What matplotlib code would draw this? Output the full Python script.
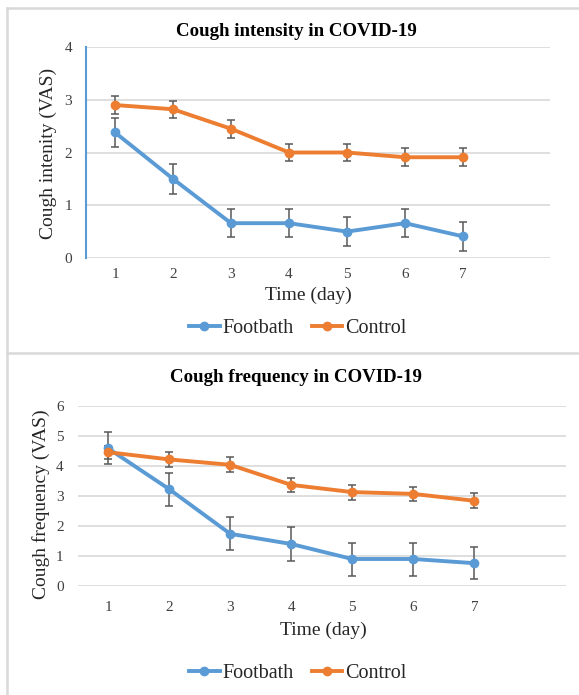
import matplotlib
matplotlib.use("Agg")
import matplotlib.pyplot as plt
from matplotlib.lines import Line2D

days = [1, 2, 3, 4, 5, 6, 7]

# Cough intensity (VAS)
int_footbath = [2.38, 1.50, 0.66, 0.66, 0.50, 0.66, 0.41]
int_footbath_err = [0.27, 0.28, 0.27, 0.27, 0.27, 0.27, 0.28]
int_control = [2.90, 2.82, 2.45, 2.00, 2.00, 1.91, 1.91]
int_control_err = [0.17, 0.16, 0.17, 0.17, 0.17, 0.17, 0.17]

# Cough frequency (VAS)
freq_footbath = [4.59, 3.23, 1.74, 1.40, 0.90, 0.90, 0.76]
freq_footbath_err = [0.53, 0.55, 0.55, 0.56, 0.55, 0.55, 0.54]
freq_control = [4.46, 4.22, 4.04, 3.37, 3.13, 3.07, 2.84]
freq_control_err = [0.22, 0.25, 0.25, 0.24, 0.25, 0.24, 0.25]

BLUE = "#5B9BD5"
ORANGE = "#ED7D31"
GRID = "#D9D9D9"
ERR = "#595959"
TXT = "#262626"

plt.rcParams['font.family'] = ['Liberation Serif', 'DejaVu Serif']

W, H = 579, 695
fig = plt.figure(figsize=(W / 100, H / 100), dpi=100)

# panel frames
fig.add_artist(Line2D([7 / W, 1], [1 - 8 / H, 1 - 8 / H], color=GRID, lw=1.8, transform=fig.transFigure))
fig.add_artist(Line2D([7 / W, 7 / W], [0, 1 - 8 / H], color=GRID, lw=1.8, transform=fig.transFigure))
fig.add_artist(Line2D([7 / W, 1], [1 - 353 / H, 1 - 353 / H], color=GRID, lw=1.8, transform=fig.transFigure))


def panel(rect, fb, fb_err, ct, ct_err, ymax, title, ylabel, left_spine, title_y, xlabel_y,
          ylabel_x, ylabel_y, legend_y, legend_x, xlabel_x, xpad):
    ax = fig.add_axes(rect)
    for y in range(0, ymax + 1):
        ax.axhline(y, color=GRID, lw=1.2, zorder=0)
    for vals, errs, col, lab in [(fb, fb_err, BLUE, "Footbath"), (ct, ct_err, ORANGE, "Control")]:
        ax.errorbar(days, vals, yerr=errs, fmt='none', ecolor=ERR, elinewidth=1.1,
                    capsize=3.2, capthick=1.1, zorder=2)
        ax.plot(days, vals, color=col, lw=2.8, marker='o', ms=6, zorder=3, label=lab)
    ax.set_xlim(0.5, 8.5)
    ax.set_ylim(0, ymax)
    ax.set_xticks(days)
    ax.set_yticks(range(0, ymax + 1))
    ax.tick_params(length=0, labelsize=11, labelcolor="#404040")
    ax.tick_params(axis='x', pad=xpad)
    ax.tick_params(axis='y', pad=10)
    for s in ['top', 'right', 'bottom']:
        ax.spines[s].set_visible(False)
    if left_spine:
        ax.spines['left'].set_color(BLUE)
        ax.spines['left'].set_linewidth(1.5)
    else:
        ax.spines['left'].set_visible(False)
    fig.text(296 / W, 1 - title_y / H, title, ha='center', va='center', fontsize=13.6,
             fontweight='bold', color="#000000")
    fig.text(xlabel_x / W, 1 - xlabel_y / H, "Time (day)", ha='center', va='center', fontsize=14, color=TXT)
    fig.text(ylabel_x / W, 1 - ylabel_y / H, ylabel, ha='center', va='center', rotation=90,
             fontsize=14, color=TXT)
    fig.legend(handles=[l for l in ax.get_lines() if l.get_label() in ("Footbath", "Control")],
               loc='center', bbox_to_anchor=(legend_x / W, 1 - legend_y / H), ncol=2, frameon=False,
               fontsize=14.5, handlelength=1.5, handletextpad=0.15, columnspacing=0.9, labelcolor=TXT)
    return ax


panel([86 / W, 1 - 258 / H, (550 - 86) / W, 211 / H], int_footbath, int_footbath_err,
      int_control, int_control_err, 4, "Cough intensity in COVID-19", "Cough intenity (VAS)",
      True, 32, 295, 48, 153, 328, 298, 308, 7)
panel([77.5 / W, 1 - 586 / H, (566 - 77.5) / W, 180 / H], freq_footbath, freq_footbath_err,
      freq_control, freq_control_err, 6, "Cough frequency in COVID-19", "Cough frequency (VAS)",
      False, 377, 630, 41, 504, 673, 298, 323, 11)

fig.savefig("out.png", dpi=100, facecolor="white")
